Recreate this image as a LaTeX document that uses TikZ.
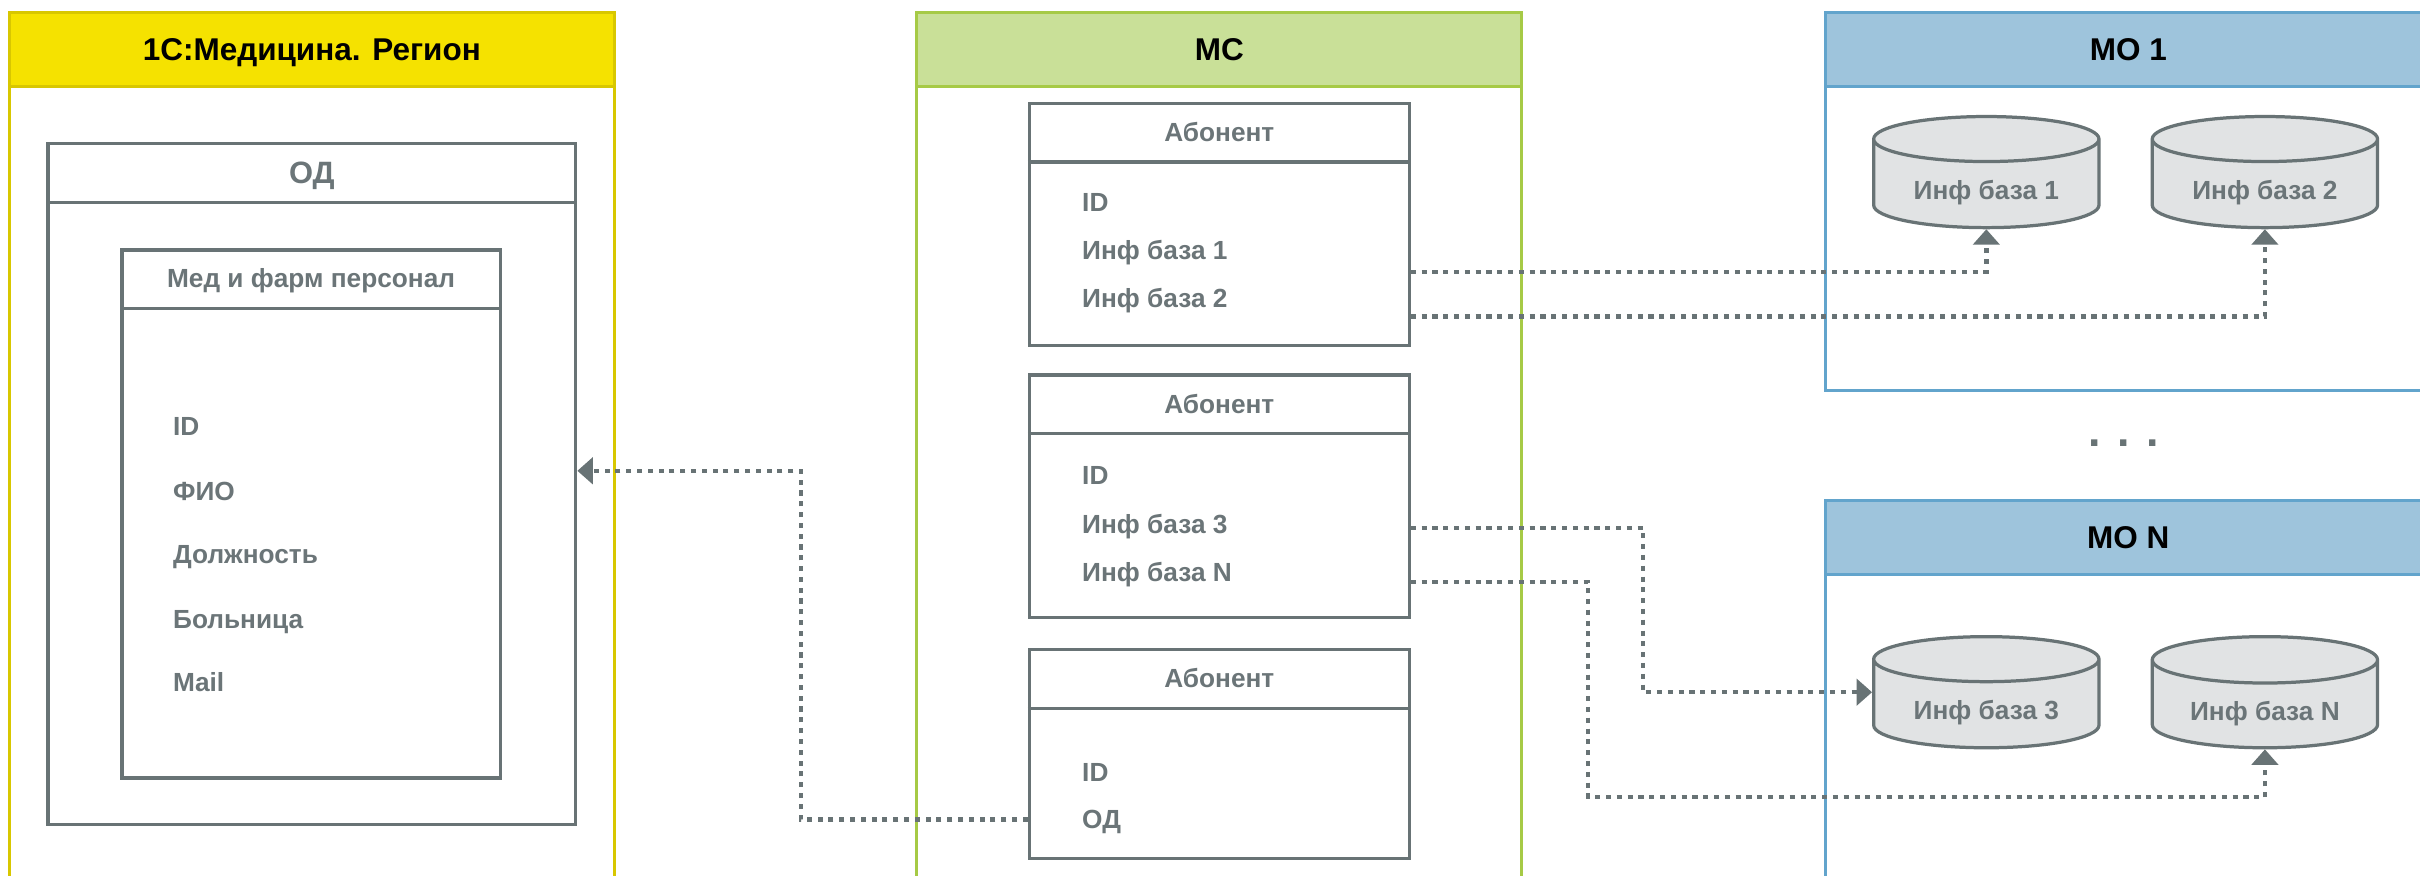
\documentclass[tikz,border=0pt]{standalone}
\usepackage{fontspec}
\setmainfont{Liberation Sans}
\usetikzlibrary{arrows.meta,shapes.geometric}

\definecolor{slate}{HTML}{687375}
\definecolor{slatetext}{HTML}{6B7578}
\definecolor{dbgrey}{HTML}{E1E3E4}
\definecolor{ylwfill}{HTML}{F5E200}
\definecolor{ylwline}{HTML}{D8C700}
\definecolor{grnfill}{HTML}{C9E098}
\definecolor{grnline}{HTML}{A6CA46}
\definecolor{blufill}{HTML}{9EC4DC}
\definecolor{bluline}{HTML}{62A4CC}

% pool with a coloured header: name, x, y, height, fill, line, title
\newcommand{\Pool}[7]{
    \node[lanebody, draw=#6, minimum height=#4pt] (#1) at (#2,#3) {};
    \node[lanehead, draw=#6, fill=#5] (#1head) at (#2,#3) {#7};
}
% subscriber card: name, top y, height
\newcommand{\Card}[3]{
    \node[card, minimum height=#3pt] (#1) at (666,#2) {};
    \draw[cardline] (#1.north west) ++(0,39) -- ++(246,0);
    \node[cardtitle] (#1title) at ([yshift=-19.5pt]#1.north) {Абонент};
}

\begin{document}
\begin{tikzpicture}[x=1pt,y=-1pt,
    lanebody/.style={line width=2pt, minimum width=392pt, anchor=north west, inner sep=0pt},
    lanehead/.style={line width=2pt, minimum width=392pt, minimum height=48pt, anchor=north west,
        font=\fontsize{20.4}{24}\selectfont\bfseries, text height=14.6pt, text depth=0pt},
    card/.style={draw=slate, line width=2.1pt, minimum width=246pt, anchor=north west, inner sep=0pt},
    cardline/.style={draw=slate, line width=2.1pt},
    cardtitle/.style={text=slatetext, font=\fontsize{17}{20}\selectfont\bfseries,
        text height=12.2pt, text depth=0pt, inner sep=0pt},
    field/.style={cardtitle, anchor=west},
    db/.style={cylinder, shape border rotate=90, aspect=0.31, draw=slate, fill=dbgrey, line width=2.1pt,
        minimum width=146pt, minimum height=72pt, inner sep=0pt, text=slatetext, anchor=shape center,
        font=\fontsize{17}{20}\selectfont\bfseries, text height=20pt, text depth=0pt},
    link/.style={draw=slate, line width=2.8pt, dash pattern=on 3.3pt off 3.7pt},
    tip/.style={-{Triangle[width=17pt,length=10pt]}}
    ]
    \useasboundingbox (0,0) rectangle (1568,567);
    \clip (0,0) rectangle (1568,567);
    \fill[white] (0,0) rectangle (1568,567);

    % pools
    \Pool{region}{5}{7}{600}{ylwfill}{ylwline}{1С:Медицина. Регион}
    \Pool{ms}{593}{7}{600}{grnfill}{grnline}{МС}
    \Pool{moone}{1182}{7}{245}{blufill}{bluline}{МО 1}
    \Pool{mon}{1182}{323}{300}{blufill}{bluline}{МО N}

    % ОД
    \node[card, minimum width=342pt, minimum height=441pt] (od) at (30,92) {};
    \draw[cardline] (od.north west) ++(0,39) -- ++(342,0);
    \node[cardtitle, font=\fontsize{20}{24}\selectfont\bfseries, text height=14.3pt] (odtitle) at ([yshift=-19.5pt]od.north) {ОД};
    \node[card, minimum width=245pt, minimum height=342pt] (staff) at (78,161) {};
    \draw[cardline] (staff.north west) ++(0,39) -- ++(245,0);
    \node[cardtitle] (stafftitle) at ([yshift=-19.5pt]staff.north) {Мед и фарм персонал};
    \node[field] (sid) at (112,276) {ID};
    \node[field] (sfio) at (112,318) {ФИО};
    \node[field] (spost) at (112,359) {Должность};
    \node[field] (shosp) at (112,401) {Больница};
    \node[field] (smail) at (112,442) {Mail};

    % МС
    \Card{ab1}{66}{157}
    \node[field] (ab1id) at (701,131) {ID};
    \node[field] (ab1a) at (701,162) {Инф база 1};
    \node[field] (ab1b) at (701,193) {Инф база 2};
    \Card{ab2}{242}{157}
    \node[field] (ab2id) at (701,308) {ID};
    \node[field] (ab2a) at (701,339.5) {Инф база 3};
    \node[field] (ab2b) at (701,370.5) {Инф база N};
    \Card{ab3}{420}{135}
    \node[field] (ab3id) at (701,500) {ID};
    \node[field] (ab3od) at (701,531) {ОД};

    % МО
    \node[db] (db1) at (1287,111.5) {Инф база 1};
    \node[db] (db2) at (1467.5,111.5) {Инф база 2};
    \node[db] (db3) at (1287,448.5) {Инф база 3};
    \node[db] (dbn) at (1467.5,448.5) {Инф база N};
    \node[text=slate, font=\fontsize{29}{30}\selectfont\bfseries, anchor=base] (etc) at (1376,289) {. . .};

    % links
    \draw[link, tip] ([yshift=-30.5pt]ab1.east) -| (db1.south);
    \draw[link, tip] ([yshift=-59.5pt]ab1.east) -| (db2.south);
    \draw[link, tip] ([yshift=-20.5pt]ab2.east) -- ++(150.5,0) |- (db3.west |- db3.shape center);
    \draw[link, tip] ([yshift=-55.5pt]ab2.east) -- ++(115,0) |- ([yshift=-31pt]dbn.south) -- (dbn.south);
    \draw[link, tip] ([yshift=-42.5pt]ab3.west) -- ++(-147,0) |- ([yshift=8.5pt]od.east);
\end{tikzpicture}
\end{document}
